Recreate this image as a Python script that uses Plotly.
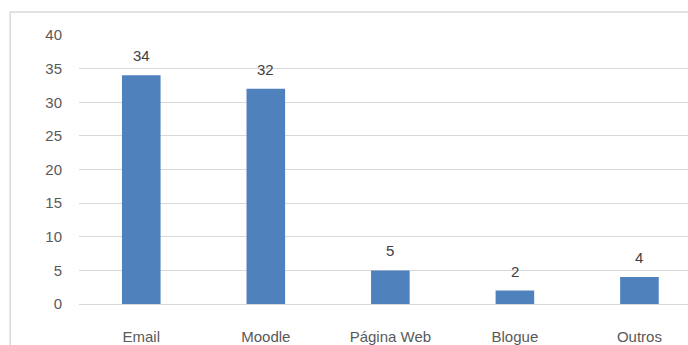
import plotly.graph_objects as go

categories = ["Email", "Moodle", "Página Web", "Blogue", "Outros"]
values = [34, 32, 5, 2, 4]
y_ticks = [0, 5, 10, 15, 20, 25, 30, 35, 40]

bar_color = "#4f81bd"
grid_color = "#d9d9d9"
text_color = "#595959"
font_family = "Liberation Sans, Arial, sans-serif"

fig = go.Figure()
fig.add_trace(go.Bar(
    x=categories,
    y=values,
    width=0.31,
    marker=dict(color=bar_color, line=dict(width=0)),
    hoverinfo="skip",
))

for c, v in zip(categories, values):
    fig.add_annotation(
        x=c, y=v, text=str(v), showarrow=False,
        yanchor="bottom", yshift=9,
        font=dict(family=font_family, size=15, color="#404040"),
    )

# chart border (extends past the page edges like the reference)
fig.add_shape(
    type="rect", xref="paper", yref="paper",
    x0=-0.113, x1=1.1, y0=-0.2, y1=1.0855,
    line=dict(color=grid_color, width=1.5),
    fillcolor="rgba(0,0,0,0)", layer="below",
)

fig.update_layout(
    width=688, height=345,
    margin=dict(l=79, r=0, t=35, b=41),
    paper_bgcolor="white", plot_bgcolor="white",
    showlegend=False,
    font=dict(family=font_family, size=15, color=text_color),
    xaxis=dict(
        range=[-0.5, 4.39], automargin=False,
        showgrid=False, showline=False, zeroline=False,
        ticks="", ticklabelstandoff=22,
        tickfont=dict(family=font_family, size=15, color=text_color),
    ),
    yaxis=dict(
        range=[0, 40], tickvals=y_ticks, automargin=False,
        showgrid=True, gridcolor=grid_color, gridwidth=1,
        zeroline=True, zerolinecolor=grid_color, zerolinewidth=1,
        showline=False, ticks="", ticklabelstandoff=16,
        tickfont=dict(family=font_family, size=15, color=text_color),
    ),
)

fig.write_html("out.html")
